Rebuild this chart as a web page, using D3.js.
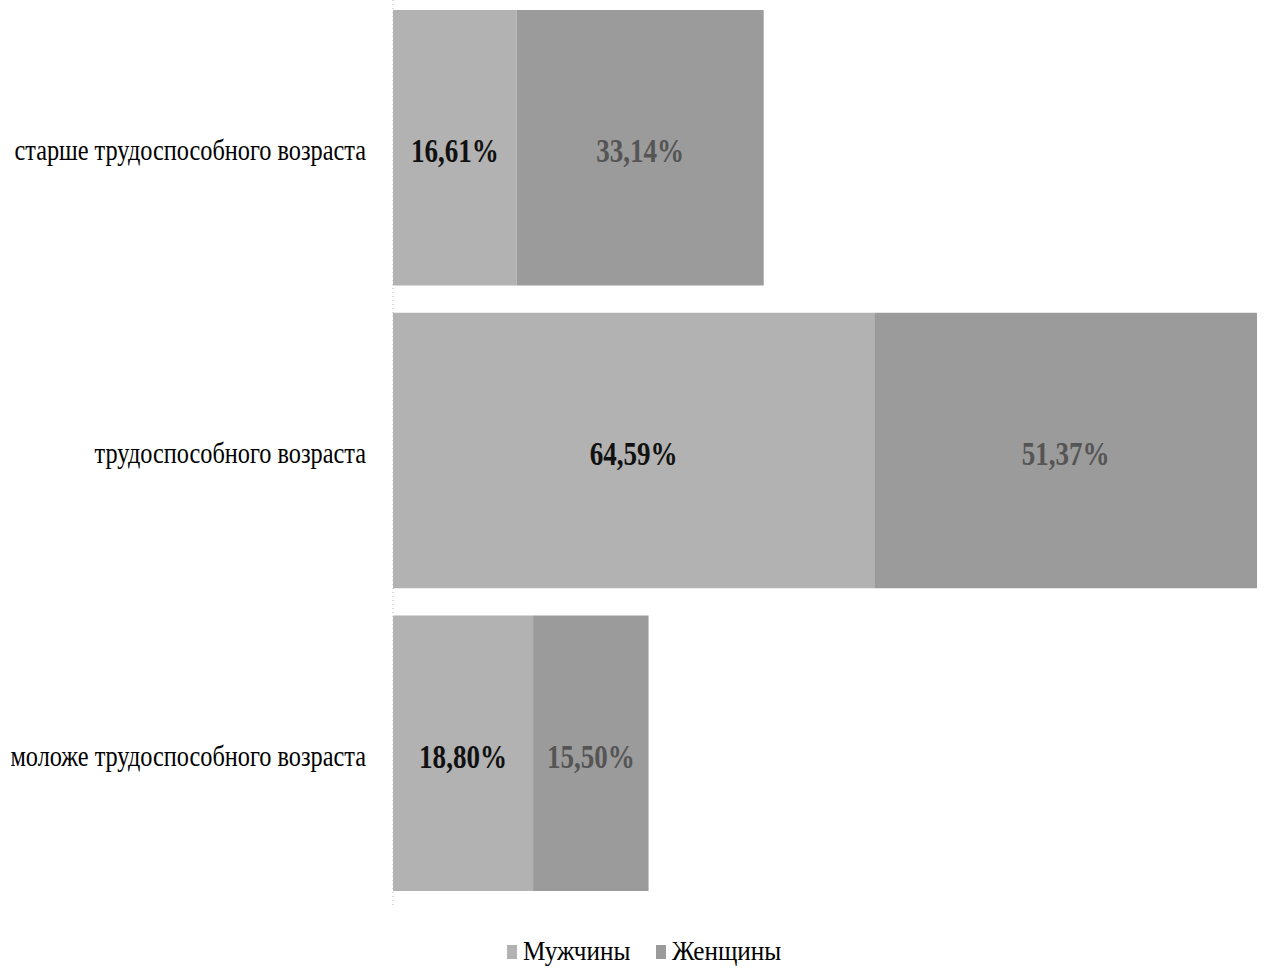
<!DOCTYPE html>
<html>
<head>
<meta charset="utf-8">
<script src="https://cdn.jsdelivr.net/npm/d3@7"></script>
<style>
  html, body { margin: 0; padding: 0; background: #fff; }
  svg { display: block; font-family: "Liberation Serif", "DejaVu Serif", serif; }
</style>
</head>
<body>
<svg id="chart" width="1265" height="970"></svg>
<script>
// Age groups, listed top to bottom
const categories = [
  "старше трудоспособного возраста",
  "трудоспособного возраста",
  "моложе трудоспособного возраста"
];
const seriesNames = ["Мужчины", "Женщины"];
const men   = [16.61, 64.59, 18.80];
const women = [33.14, 51.37, 15.50];
const seriesColors = ["#b2b2b2", "#9b9b9b"];
const labelColors  = ["#111111", "#555555"];

const fmt = v => v.toFixed(2).replace(".", ",") + "%";

const rows = categories.map((c, i) => ({ cat: c, Мужчины: men[i], Женщины: women[i] }));
const stacked = d3.stack().keys(seriesNames)(rows);

const svg = d3.select("#chart");
const plotLeft = 393, plotRight = 1257, plotTop = 10, plotBottom = 891;
const squeeze = 0.82; // narrow, condensed lettering

const x = d3.scaleLinear()
  .domain([0, d3.max(rows, r => r.Мужчины + r.Женщины)])
  .range([plotLeft, plotRight]);

const y = d3.scaleBand()
  .domain(categories)
  .range([plotTop, plotBottom])
  .paddingInner(0.09)
  .paddingOuter(0);

// Bars
const layers = svg.append("g").selectAll("g")
  .data(stacked)
  .join("g")
  .attr("fill", (d, i) => seriesColors[i]);

layers.selectAll("rect")
  .data(d => d.map(p => ({ p, key: d.key })))
  .join("rect")
  .attr("x", d => x(d.p[0]))
  .attr("y", d => y(d.p.data.cat))
  .attr("width", d => x(d.p[1]) - x(d.p[0]))
  .attr("height", y.bandwidth());

// Value labels inside the segments
stacked.forEach((layer, li) => {
  svg.append("g").selectAll("text")
    .data(layer)
    .join("text")
    .attr("transform", d =>
      `translate(${(x(d[0]) + x(d[1])) / 2},${y(d.data.cat) + y.bandwidth() / 2 + 3}) scale(${squeeze},1)`)
    .attr("dy", "0.35em")
    .attr("text-anchor", "middle")
    .attr("font-size", 33)
    .attr("font-weight", "bold")
    .attr("fill", labelColors[li])
    .text(d => fmt(d[1] - d[0]));
});

// Category axis on the left, no ticks
const yAxis = d3.axisLeft(y).tickSize(0).tickPadding(0);
const ag = svg.append("g")
  .attr("transform", `translate(${plotLeft},0)`)
  .call(yAxis);
ag.select(".domain").remove();
ag.selectAll(".tick text")
  .attr("x", null)
  .attr("transform", "translate(-27,3) scale(0.81,1)")
  .attr("font-family", "Liberation Serif, serif")
  .attr("font-size", 30)
  .attr("fill", "#000");

// Dotted baseline of the bars
svg.append("line")
  .attr("x1", plotLeft).attr("x2", plotLeft)
  .attr("y1", 0).attr("y2", 905)
  .attr("stroke", "#b5b5b5")
  .attr("stroke-width", 1)
  .attr("stroke-dasharray", "1,3");

// Legend
const legend = svg.append("g").attr("transform", "translate(507,960)");
const items = legend.selectAll("g")
  .data(seriesNames)
  .join("g")
  .attr("transform", (d, i) => `translate(${i * 149},0)`);
items.append("rect")
  .attr("x", 0).attr("y", -15)
  .attr("width", 10).attr("height", 14)
  .attr("fill", (d, i) => seriesColors[i]);
items.append("text")
  .attr("transform", "translate(16,0) scale(0.9,1)")
  .attr("font-size", 28)
  .attr("fill", "#000")
  .text(d => d);
</script>
</body>
</html>
